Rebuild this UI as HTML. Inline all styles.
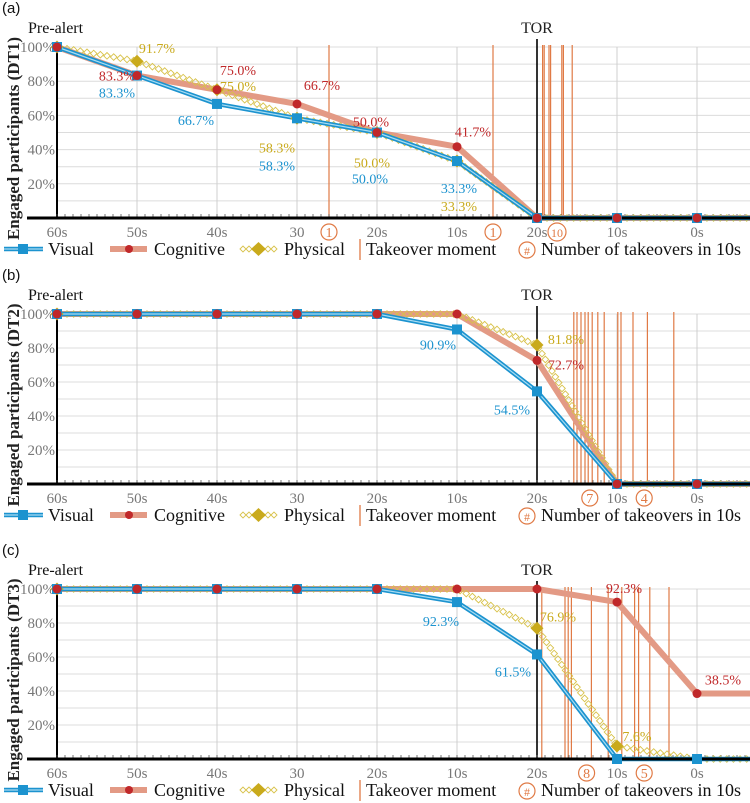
<!DOCTYPE html>
<html><head><meta charset="utf-8">
<style>
html,body{margin:0;padding:0;background:#fff;}
svg{display:block;font-family:"Liberation Serif",serif;}
</style></head>
<body>
<svg id="chart" width="750" height="803" viewBox="0 0 750 803" xmlns="http://www.w3.org/2000/svg"></svg>
<script>
const categories = ["60s","50s","40s","30","20s","10s","20s","10s","0s"];
const panelNames = ["(a)","(b)","(c)"];
const panelTitles = ["Engaged participants (DT1)","Engaged participants (DT2)","Engaged participants (DT3)"];
const visualDT1 = [100,83.3,66.7,58.3,50,33.3,0,0,0];
const cognitiveDT1 = [100,83.3,75,66.7,50,41.7,0,0,0];
const physicalDT1 = [100,91.7,75,58.3,50,33.3,0,0,0];
const visualDT2 = [100,100,100,100,100,90.9,54.5,0,0];
const cognitiveDT2 = [100,100,100,100,100,100,72.7,0,0];
const physicalDT2 = [100,100,100,100,100,100,81.8,0,0];
const visualDT3 = [100,100,100,100,100,92.3,61.5,0,0];
const cognitiveDT3 = [100,100,100,100,100,100,100,92.3,38.5];
const physicalDT3 = [100,100,100,100,100,100,76.9,7.6,0];
// takeover moments expressed in category units (0 = 60s ... 6 = TOR)
const takeoversDT1 = [3.4,5.45,6.07,6.09,6.15,6.17,6.31,6.33,6.44];
const takeoversDT2 = [6.46,6.5,6.55,6.6,6.64,6.69,6.76,6.84,7.01,7.05,7.2,7.38,7.71];
const takeoversDT3 = [6.06,6.35,6.39,6.43,6.68,6.89,7.06,7.22,7.27,7.41,7.65];
const takeoverCounts = [[["1",3.4],["1",5.45],["10",6.25]],[["7",6.66],["4",7.34]],[["8",6.62],["5",7.34]]];
const yTicks = [20,40,60,80,100];

const panels = [
 {y100:47,y0:218,V:visualDT1,C:cognitiveDT1,P:physicalDT1,T:takeoversDT1,
  labels:[["91.7%","y",1,91.7,20,-13],["83.3%","r",1,83.3,-20,0],["83.3%","b",1,83.3,-20,17],
   ["75.0%","r",2,75,21,-20],["75.0%","y",2,75,21,-4],["66.7%","b",2,66.7,-21,16],
   ["66.7%","r",3,66.7,25,-19],["58.3%","y",3,58.3,-20,29],["58.3%","b",3,58.3,-20,47],
   ["50.0%","r",4,50,-6,-11],["50.0%","y",4,50,-5,30],["50.0%","b",4,50,-7,46],
   ["41.7%","r",5,41.7,16,-15],["33.3%","b",5,33.3,2,27],["33.3%","y",5,33.3,2,45]]},
 {y100:314,y0:484,V:visualDT2,C:cognitiveDT2,P:physicalDT2,T:takeoversDT2,
  labels:[["90.9%","b",5,90.9,-19,15],["54.5%","b",6,54.5,-25,18],["81.8%","y",6,81.8,29,-6],["72.7%","r",6,72.7,29,4]]},
 {y100:589,y0:759,V:visualDT3,C:cognitiveDT3,P:physicalDT3,T:takeoversDT3,
  labels:[["92.3%","b",5,92.3,-16,19],["61.5%","b",6,61.5,-24,17],["76.9%","y",6,76.9,21,-12],
   ["92.3%","r",7,92.3,7,-14],["38.5%","r",8,38.5,26,-14],["7.6%","y",7,7.6,20,-10]]}
];
const COL={r:"#c0282a",b:"#1c93cf",y:"#c9aa1c"};
const svg=document.getElementById('chart');
const NS="http://www.w3.org/2000/svg";
function mk(tag,attrs,parent,text){const e=document.createElementNS(NS,tag);for(const k in attrs)e.setAttribute(k,attrs[k]);if(text!==undefined)e.textContent=text;(parent||svg).appendChild(e);return e;}
function xs(i){return 57+80*i;}

panels.forEach((p,pi)=>{
 const yv=v=>p.y0-(p.y0-p.y100)*v/100;
 const g=mk('g',{});
 
 
 const lt=mk('text',{x:2,y:p.y100-34,'font-size':15,'font-family':'Liberation Sans, sans-serif',fill:'#111'},g,panelNames[pi]);
 
 for(let v=10;v<=100;v+=10){const l=mk('line',{x1:57,x2:750,y1:yv(v),y2:yv(v),stroke:'#dcdcdc','stroke-width':1},g);}
 for(let i=1;i<categories.length;i++){const l=mk('line',{x1:xs(i),x2:xs(i),y1:yv(100),y2:p.y0,stroke:'#cfcfcf','stroke-width':1},g);}
 yTicks.forEach(v=>{const t=mk('text',{x:55,y:yv(v)+5,'text-anchor':'end','font-size':15,fill:'#777'},g,v+'%');});
 const yt=mk('text',{x:0,y:0,transform:`translate(19,${(p.y100+p.y0)/2+6}) rotate(-90)`,'text-anchor':'middle','font-size':17,'font-weight':'bold',fill:'#222'},g,panelTitles[pi]);
 
 p.T.forEach(t=>{const l=mk('line',{x1:57+80*t,x2:57+80*t,y1:yv(100)-2,y2:p.y0,stroke:'#e07a45','stroke-width':1.2},g);});
 const va=mk('line',{x1:57,x2:57,y1:yv(100),y2:p.y0,stroke:'#000','stroke-width':2},g);
 const tor=mk('line',{x1:xs(6),x2:xs(6),y1:yv(100)-8,y2:p.y0,stroke:'#000','stroke-width':1.6},g);
 const tt=mk('text',{x:xs(6),y:yv(100)-14,'text-anchor':'middle','font-size':16,fill:'#222'},g,'TOR');
 const pa=mk('text',{x:28,y:yv(100)-14,'font-size':16,fill:'#111'},g,'Pre-alert');
 for(let x=57;x<=750;x+=8){const l=mk('line',{x1:x,x2:x,y1:p.y0-4,y2:p.y0,stroke:'#555','stroke-width':0.8},g);}
 const pts=arr=>{const a=arr.map((v,i)=>[xs(i),yv(v)]);a.push([750,yv(arr[arr.length-1])]);return a;};
 const ptsStr=a=>a.map(q=>q.join(',')).join(' ');
 const C=pts(p.C);
 const cl=mk('polyline',{points:ptsStr(C),fill:'none',stroke:'#e39a85','stroke-width':6,'stroke-linejoin':'round'},g);
 const P=pts(p.P);
 for(let s=0;s<P.length-1;s++){
  const [x1,y1]=P[s],[x2,y2]=P[s+1];const len=Math.hypot(x2-x1,y2-y1);const n=Math.floor(len/6.5);
  for(let k=0;k<n;k++){const f=(k+0.5)/n;const cx=x1+(x2-x1)*f,cy=y1+(y2-y1)*f;
   const d=mk('path',{d:`M${cx-3.3},${cy} L${cx},${cy-3.3} L${cx+3.3},${cy} L${cx},${cy+3.3} Z`,fill:'none',stroke:'#d8c24a','stroke-width':0.9},g);
   }
 }
 const V=pts(p.V);
 const vl=mk('polyline',{points:ptsStr(V),fill:'none',stroke:'#1c93cf','stroke-width':4.5,'stroke-linejoin':'round'},g);
 const vl2=mk('polyline',{points:ptsStr(V),fill:'none',stroke:'#a8dcf2','stroke-width':1.2,'stroke-linejoin':'round'},g);
 const ax=mk('line',{x1:27,x2:750,y1:p.y0,y2:p.y0,stroke:'#000','stroke-width':3},g);
 p.P.forEach((v,i)=>{const cx=xs(i),cy=yv(v);const big=(v>0&&v<100)||i==0;const r=big?6.5:4;
  const d=mk('path',{d:`M${cx-r},${cy} L${cx},${cy-r} L${cx+r},${cy} L${cx},${cy+r} Z`,fill:'#c9aa1c'},g);});
 p.V.forEach((v,i)=>{const r=mk('rect',{x:xs(i)-5,y:yv(v)-5,width:10,height:10,fill:'#1c93cf'},g);});
 p.C.forEach((v,i)=>{const c=mk('circle',{cx:xs(i),cy:yv(v),r:4.5,fill:'#c0282a'},g);});
 p.labels.forEach(L=>{const [txt,c,i,v,dx,dy]=L;const t=mk('text',{x:xs(i)+dx,y:yv(v)+dy+5,'text-anchor':'middle','font-size':14,fill:COL[c]},g,txt);});
 categories.forEach((c,i)=>{const t=mk('text',{x:xs(i),y:p.y0+19,'text-anchor':'middle','font-size':15,fill:'#777'},g,c);});
 takeoverCounts[pi].forEach(([n,pos])=>{const cx=57+80*pos,cy=p.y0+14;
  const c=mk('circle',{cx:cx,cy:cy,r:n.length>1?9:8,fill:'#fff',stroke:'#e07a45','stroke-width':1.2},g);
  const t=mk('text',{x:cx,y:cy+5,'text-anchor':'middle','font-size':n.length>1?12:14,fill:'#e07a45'},g,n);});
 const ly=p.y0+31;
 const lg=mk('g',{},g);
 const e1=mk('line',{x1:4,x2:43,y1:ly,y2:ly,stroke:'#1c93cf','stroke-width':4.5},lg);
 mk('line',{x1:4,x2:43,y1:ly,y2:ly,stroke:'#a8dcf2','stroke-width':1.2},lg);
 mk('rect',{x:18,y:ly-5,width:10,height:10,fill:'#1c93cf'},lg);
 const t1=mk('text',{x:48,y:ly+6,'font-size':18,fill:'#111'},lg,'Visual');
 const e2=mk('line',{x1:110,x2:147,y1:ly,y2:ly,stroke:'#e39a85','stroke-width':6},lg);
 mk('circle',{cx:129,cy:ly,r:4,fill:'#c0282a'},lg);
 const t2=mk('text',{x:154,y:ly+6,'font-size':18,fill:'#111'},lg,'Cognitive');
 [243,249,268,274].forEach(cx=>mk('path',{d:`M${cx-3},${ly} L${cx},${ly-3} L${cx+3},${ly} L${cx},${ly+3} Z`,fill:'none',stroke:'#d8c24a','stroke-width':0.9},lg));
 const e3=mk('path',{d:`M251,${ly} L258.5,${ly-7} L266,${ly} L258.5,${ly+7} Z`,fill:'#c9aa1c'},lg);
 const t3=mk('text',{x:284,y:ly+6,'font-size':18,fill:'#111'},lg,'Physical');
 const e4=mk('line',{x1:360,x2:360,y1:ly-10,y2:ly+11,stroke:'#e07a45','stroke-width':1.3},lg);
 const t4=mk('text',{x:366,y:ly+6,'font-size':18,fill:'#111'},lg,'Takeover moment');
 mk('circle',{cx:527,cy:ly+1,r:8,fill:'#fff',stroke:'#e07a45','stroke-width':1.2},lg);
 mk('text',{x:527,y:ly+6,'text-anchor':'middle','font-size':12,fill:'#e07a45'},lg,'#');
 const t5=mk('text',{x:541,y:ly+6,'font-size':18,fill:'#111'},lg,'Number of takeovers in 10s');
});
</script>
</body></html>
